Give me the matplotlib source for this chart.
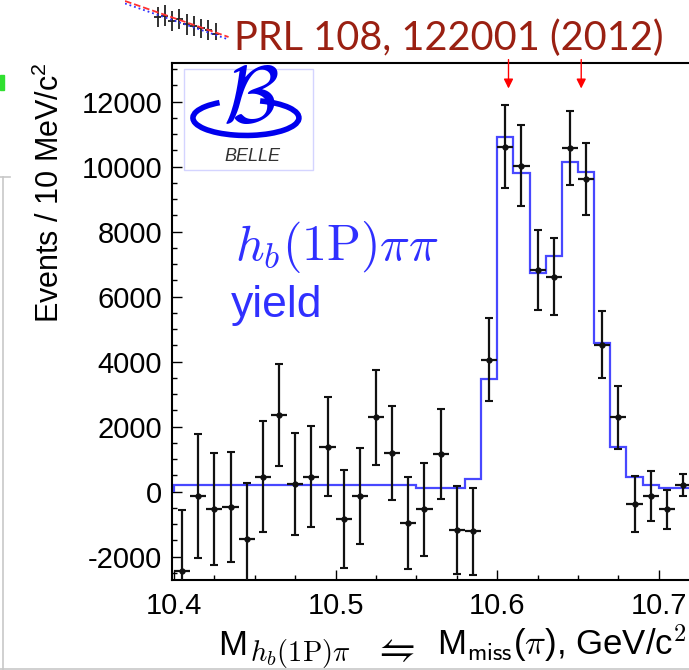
import numpy as np
import matplotlib.pyplot as plt
from matplotlib.lines import Line2D
from matplotlib.patches import Arc, Rectangle
from matplotlib.ticker import MultipleLocator

plt.rcParams['font.family'] = ['Liberation Sans', 'DejaVu Sans']
plt.rcParams['mathtext.fontset'] = 'custom'
plt.rcParams['mathtext.rm'] = 'Liberation Sans'
plt.rcParams['mathtext.it'] = 'Liberation Sans:italic'
plt.rcParams['axes.unicode_minus'] = False

# missing-mass bins, 10 MeV wide starting at 10.40 GeV
bin_lo = 10.40
bin_width = 0.01

# background-subtracted h_b(1P) yield per bin
events = [-2450, -140, -540, -470, -1470, 460, 2350, 230, 460, 1380,
          -850, -140, 2280, 1180, -960, -550, 1150, -1190, -1220, 4060,
          10610, 10030, 6810, 6610, 10560, 9620, 4520, 2280, -390, -140,
          -550, 200]
errors = [1880, 1900, 1720, 1700, 1720, 1700, 1560, 1560, 1560, 1520,
          1500, 1490, 1460, 1450, 1420, 1420, 1390, 1360, 1340, 1290,
          1270, 1250, 1230, 1180, 1140, 1110, 1040, 960, 860, 780,
          600, 350]

# fit result, same binning
fit = [200, 200, 200, 200, 200, 200, 200, 200, 200, 200,
       200, 200, 200, 200, 200, 100, 100, 100, 375, 3450,
       10900, 9800, 6710, 7250, 10130, 9840, 4560, 1380, 460, 200,
       120, 120]

# Zb(10610) and Zb(10650) masses
zb_masses = [10.607, 10.652]

# tail of the neighbouring slide plot (top left corner)
side_x = [0, 1, 2, 3, 4, 5, 6, 7, 8]
side_y = [8.6, 8.9, 7.9, 8.2, 7.2, 6.9, 6.4, 6.0, 5.3]
side_err = [2.0, 2.1, 2.0, 2.0, 2.1, 2.0, 1.9, 2.0, 2.1]
side_fit_x = [-4.5, 9.8]
side_fit_y = [11.8, 4.6]

edges = bin_lo + bin_width * np.arange(len(fit) + 1)
centers = edges[:-1] + bin_width / 2

W, H = 689, 670
fig = plt.figure(figsize=(W / 100, H / 100), dpi=100)
ax = fig.add_axes([172 / W, 90 / H, 517 / W, 517.5 / H])

ax.stairs(fit, edges, color='#4848ff', lw=1.6, zorder=2)
ax.errorbar(centers, events, yerr=errors, fmt='none', ecolor='#111111',
            elinewidth=1.6, capsize=3, capthick=1.5, zorder=3)
ax.errorbar(centers, events, xerr=bin_width / 2, fmt='o', ms=3.5,
            color='#111111', elinewidth=1.6, zorder=4)

ax.set_xlim(10.39876, 10.7187)
ax.set_ylim(-2723, 13200)

for xm in zb_masses:
    ax.annotate('', xy=(xm, 12400), xytext=(xm, 13290),
                arrowprops=dict(arrowstyle='-|>', color='red', lw=1.0,
                                mutation_scale=14, shrinkA=0, shrinkB=0),
                annotation_clip=False)

ax.xaxis.set_major_locator(MultipleLocator(0.1))
ax.xaxis.set_minor_locator(MultipleLocator(0.025))
ax.yaxis.set_major_locator(MultipleLocator(2000))
ax.yaxis.set_minor_locator(MultipleLocator(500))
ax.tick_params(which='both', direction='in', width=1.0, labelsize=21)
ax.tick_params(which='major', length=7.5)
ax.tick_params(which='minor', length=3.8)
ax.tick_params(axis='x', pad=9)
ax.tick_params(axis='y', pad=7)
ax.spines['right'].set_visible(False)
for side in ['left', 'bottom', 'top']:
    ax.spines[side].set_linewidth(1.5)

ax.set_ylabel('Events / 10 MeV/c$^2$', fontsize=22, loc='top')
ax.yaxis.set_label_coords(-0.205, 1.0)

# x axis title, written in pieces so the first subscript and the arrows keep their size
fig.text(218 / W, 1 - 655 / H, 'M', fontsize=25, va='baseline')
fig.text(250 / W, 1 - 661 / H, r'$h_b(1\mathrm{P})\pi$', fontsize=20.5,
         va='baseline', math_fontfamily='cm')
fig.text(393 / W, 1 - 650 / H, r'$\leftrightharpoons$', fontsize=29,
         ha='center', va='center', math_fontfamily='cm')
fig.text(687 / W, 1 - 655 / H, r'M$_{\mathsf{miss}}$($\pi$), GeV/c$^2$',
         fontsize=25, ha='right', va='baseline', math_fontfamily='cm')

# Belle logo
ax.add_patch(Rectangle((0.023, 0.792), 0.249, 0.195, transform=ax.transAxes,
                       facecolor='white', edgecolor='#d4d4ff', lw=1.0, zorder=5))
ax.add_patch(Arc((0.143, 0.893), 0.205, 0.068, theta1=150, theta2=410,
                 transform=ax.transAxes, color='#0000ee', lw=4.0, zorder=6))
ax.text(0.152, 0.925, r'$\mathcal{B}$', transform=ax.transAxes, fontsize=58,
        color='#0000ee', ha='center', va='center', math_fontfamily='cm', zorder=6)
ax.text(0.155, 0.818, 'BELLE', transform=ax.transAxes, fontsize=13,
        style='italic', color='#333333', ha='center', va='center', zorder=6)

ax.text(0.122, 0.618, r'$h_b(1\mathrm{P})\pi\pi$', transform=ax.transAxes,
        fontsize=36, color='#3030ff', math_fontfamily='cm')
ax.text(0.114, 0.508, 'yield', transform=ax.transAxes, fontsize=32,
        color='#3030ff')

fig.text(0.652, 0.925, 'PRL 108, 122001 (2012)', fontsize=28.5, family='Lato',
         color='#9a2012', ha='center', va='baseline')

# corner of the neighbouring plot
side = fig.add_axes([125 / W, 1 - 40 / H, 105 / W, 40 / H])
side.errorbar(side_x, side_y, yerr=side_err, xerr=0.5, fmt='none',
              ecolor='#222222', elinewidth=1.3)
side.plot(side_fit_x, side_fit_y, color='#ff3030', ls='--', lw=1.3)
side.plot(side_fit_x, [v - 0.5 for v in side_fit_y], color='#3030ff', ls=':', lw=1.3)
side.set_xlim(-4.5, 10.0)
side.set_ylim(4.0, 12.0)
side.axis('off')

# slide frame lines
fig.add_artist(Line2D([3 / W, 3 / W], [0, 1 - 177 / H], color='#c8c8c8', lw=1.2))
fig.add_artist(Line2D([0, 10 / W], [1 - 177 / H] * 2, color='#c8c8c8', lw=1.2))
fig.add_artist(Line2D([0, 1], [1 / H, 1 / H], color='#c8c8c8', lw=1.2))
fig.add_artist(Rectangle((0, 1 - 90 / H), 4 / W, 15 / H, color='#30e030'))

fig.savefig('out.png', dpi=100)
